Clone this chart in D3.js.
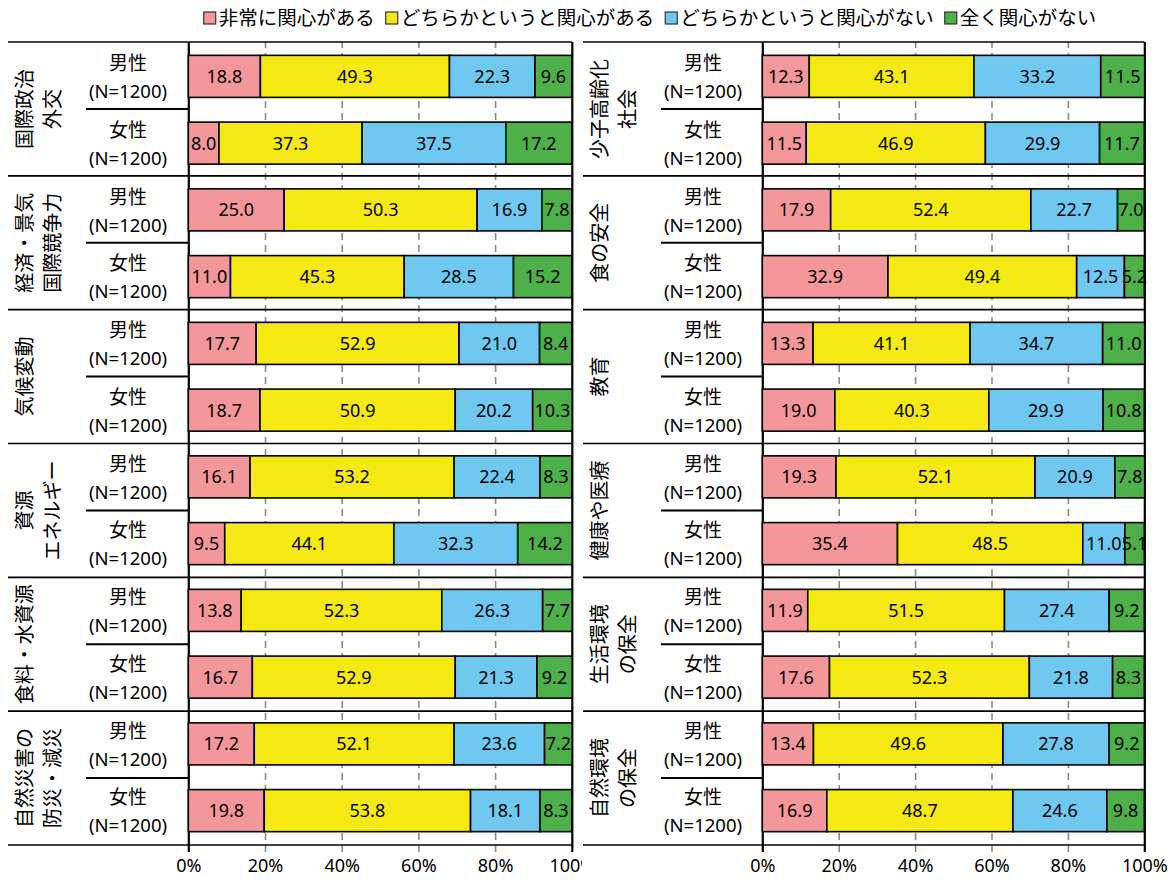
<!DOCTYPE html>
<html>
<head>
<meta charset="utf-8">
<script src="https://cdn.jsdelivr.net/npm/d3@7"></script>
<style>
  body { margin: 0; background: #fff; }
  svg { display: block; }
</style>
</head>
<body>
<div class="chart-container"></div>
<script>
// Data ------------------------------------------------------------------------------------------------
const seriesNames = ["非常に関心がある", "どちらかというと関心がある", "どちらかというと関心がない", "全く関心がない"];
const sexLabels = ["男性", "女性"];
const sampleLabel = "(N=1200)";
const tickValues = [0, 20, 40, 60, 80, 100];

const leftTopics = [["国際政治", "外交"], ["経済・景気", "国際競争力"], ["気候変動"], ["資源", "エネルギー"], ["食料・水資源"], ["自然災害の", "防災・減災"]];
const leftMale = [[18.8, 49.3, 22.3, 9.6], [25.0, 50.3, 16.9, 7.8], [17.7, 52.9, 21.0, 8.4], [16.1, 53.2, 22.4, 8.3], [13.8, 52.3, 26.3, 7.7], [17.2, 52.1, 23.6, 7.2]];
const leftFemale = [[8.0, 37.3, 37.5, 17.2], [11.0, 45.3, 28.5, 15.2], [18.7, 50.9, 20.2, 10.3], [9.5, 44.1, 32.3, 14.2], [16.7, 52.9, 21.3, 9.2], [19.8, 53.8, 18.1, 8.3]];

const rightTopics = [["少子高齢化", "社会"], ["食の安全"], ["教育"], ["健康や医療"], ["生活環境", "の保全"], ["自然環境", "の保全"]];
const rightMale = [[12.3, 43.1, 33.2, 11.5], [17.9, 52.4, 22.7, 7.0], [13.3, 41.1, 34.7, 11.0], [19.3, 52.1, 20.9, 7.8], [11.9, 51.5, 27.4, 9.2], [13.4, 49.6, 27.8, 9.2]];
const rightFemale = [[11.5, 46.9, 29.9, 11.7], [32.9, 49.4, 12.5, 5.2], [19.0, 40.3, 29.9, 10.8], [35.4, 48.5, 11.0, 5.1], [17.6, 52.3, 21.8, 8.3], [16.9, 48.7, 24.6, 9.8]];

// Style -----------------------------------------------------------------------------------------------
const width = 1171, height = 882;
const plotTop = 42, plotBottom = 845;
const jpFont = "'Noto Sans CJK JP', sans-serif";
const numFont = "'Noto Sans', 'DejaVu Sans', sans-serif";
const color = d3.scaleOrdinal().domain(seriesNames).range(["#F4979A", "#F5E914", "#6EC8F0", "#4DB048"]);

// SVG -------------------------------------------------------------------------------------------------
const svg = d3.select(".chart-container").append("svg")
  .attr("width", width)
  .attr("height", height);

svg.append("rect").attr("width", width).attr("height", height).attr("fill", "#fff");

// Rows: 6 topics x 2 sexes
const rowScale = d3.scaleBand().domain(d3.range(12)).range([plotTop, plotBottom]).paddingInner(0.37).paddingOuter(0.2);
const groupScale = d3.scaleBand().domain(d3.range(6)).range([plotTop, plotBottom]);

// Panel -----------------------------------------------------------------------------------------------
const drawPanel = (p) => {
  const g = svg.append("g");

  // white backing so this panel sits over its neighbour
  if (p.backing) {
    g.append("rect")
      .attr("x", p.labelX - 1).attr("y", plotTop - 2)
      .attr("width", width - p.labelX + 1).attr("height", height - plotTop + 2)
      .attr("fill", "#fff");
  }

  const x = d3.scaleLinear().domain([0, 100]).range([p.x0, p.x1]);

  // Grid + ticks
  const axis = g.append("g")
    .attr("transform", `translate(0,${plotBottom + 7})`)
    .call(d3.axisBottom(x).tickValues(tickValues).tickSize(-(plotBottom + 7 - plotTop)).tickFormat(d => d + "%"));
  axis.select(".domain").remove();
  axis.selectAll(".tick line")
    .attr("stroke", d => (d === 0 || d === 100) ? "#000" : "#8a8a8a")
    .attr("stroke-width", d => (d === 0 || d === 100) ? 2.2 : 1.6)
    .attr("stroke-dasharray", d => (d === 0 || d === 100) ? null : "7,5");
  axis.selectAll(".tick text")
    .attr("y", 14)
    .attr("dy", "0.35em")
    .attr("font-family", numFont)
    .attr("font-size", 18)
    .attr("fill", "#000");

  // Group separators
  g.selectAll(".sep")
    .data(d3.range(7))
    .enter().append("line")
    .attr("x1", p.labelX)
    .attr("x2", x(100))
    .attr("y1", d => d < 6 ? groupScale(d) : plotBottom)
    .attr("y2", d => d < 6 ? groupScale(d) : plotBottom)
    .attr("stroke", "#000")
    .attr("stroke-width", 1.6);

  // Lines between male / female labels
  g.selectAll(".mid")
    .data(d3.range(6))
    .enter().append("line")
    .attr("x1", p.labelX + 78)
    .attr("x2", x(0))
    .attr("y1", d => groupScale(d) + groupScale.bandwidth() / 2)
    .attr("y2", d => groupScale(d) + groupScale.bandwidth() / 2)
    .attr("stroke", "#000")
    .attr("stroke-width", 2);

  // Rows
  const rows = [];
  p.topics.forEach((t, i) => {
    rows.push({row: i * 2, sex: sexLabels[0], values: p.male[i]});
    rows.push({row: i * 2 + 1, sex: sexLabels[1], values: p.female[i]});
  });

  const segments = rows.flatMap(r => {
    let acc = 0;
    return r.values.map((v, k) => {
      const s = {row: r.row, series: seriesNames[k], start: acc, end: acc + v, value: v};
      acc += v;
      return s;
    });
  });

  g.selectAll(".seg")
    .data(segments)
    .enter().append("rect")
    .attr("class", "seg")
    .attr("x", d => x(d.start))
    .attr("y", d => rowScale(d.row))
    .attr("width", d => x(d.end) - x(d.start))
    .attr("height", rowScale.bandwidth())
    .attr("fill", d => color(d.series))
    .attr("stroke", "#000")
    .attr("stroke-width", 1.6);

  g.selectAll(".val")
    .data(segments)
    .enter().append("text")
    .attr("x", d => x((d.start + d.end) / 2))
    .attr("y", d => rowScale(d.row) + rowScale.bandwidth() / 2)
    .attr("dy", "0.36em")
    .attr("text-anchor", "middle")
    .attr("font-family", numFont)
    .attr("font-size", 18)
    .text(d => d.value.toFixed(1));

  // Sex labels
  const sexG = g.selectAll(".sex")
    .data(rows)
    .enter().append("g")
    .attr("transform", d => `translate(${p.labelX + 120},${rowScale(d.row) + rowScale.bandwidth() / 2})`);
  sexG.append("text")
    .attr("y", -13)
    .attr("dy", "0.36em")
    .attr("text-anchor", "middle")
    .attr("font-family", jpFont)
    .attr("font-size", 19)
    .text(d => d.sex);
  sexG.append("text")
    .attr("y", 15)
    .attr("dy", "0.36em")
    .attr("text-anchor", "middle")
    .attr("font-family", numFont)
    .attr("font-size", 18.5)
    .text(sampleLabel);

  // Topic labels (vertical)
  p.topics.forEach((lines, i) => {
    const cy = groupScale(i) + groupScale.bandwidth() / 2;
    lines.forEach((line, j) => {
      const cx = p.labelX + 17 + j * 28;
      g.append("text")
        .attr("transform", `translate(${cx},${cy}) rotate(-90)`)
        .attr("dy", "0.36em")
        .attr("text-anchor", "middle")
        .attr("font-family", jpFont)
        .attr("font-size", 20)
        .text(line);
    });
  });
};

drawPanel({topics: leftTopics, male: leftMale, female: leftFemale, labelX: 8, x0: 188.3, x1: 571.8, backing: false});
drawPanel({topics: rightTopics, male: rightMale, female: rightFemale, labelX: 583, x0: 762.3, x1: 1144.3, backing: true});

// Legend ----------------------------------------------------------------------------------------------
const legend = svg.append("g").attr("transform", "translate(0,18)");
const items = legend.selectAll(".legend-item")
  .data(seriesNames)
  .enter().append("g");
items.append("rect")
  .attr("x", 0).attr("y", -6)
  .attr("width", 12).attr("height", 12)
  .attr("fill", d => color(d))
  .attr("stroke", "#333")
  .attr("stroke-width", 1.2);
items.append("text")
  .attr("x", 15)
  .attr("dy", "0.36em")
  .attr("font-family", jpFont)
  .attr("font-size", 19.5)
  .text(d => d);

let cursor = 0;
const offsets = [];
items.each(function() {
  offsets.push(cursor);
  cursor += 15 + d3.select(this).select("text").node().getComputedTextLength() + 11;
});
const legendWidth = cursor - 11;
const legendStart = 650 - legendWidth / 2;
items.attr("transform", (d, i) => `translate(${legendStart + offsets[i]},0)`);
</script>
</body>
</html>
